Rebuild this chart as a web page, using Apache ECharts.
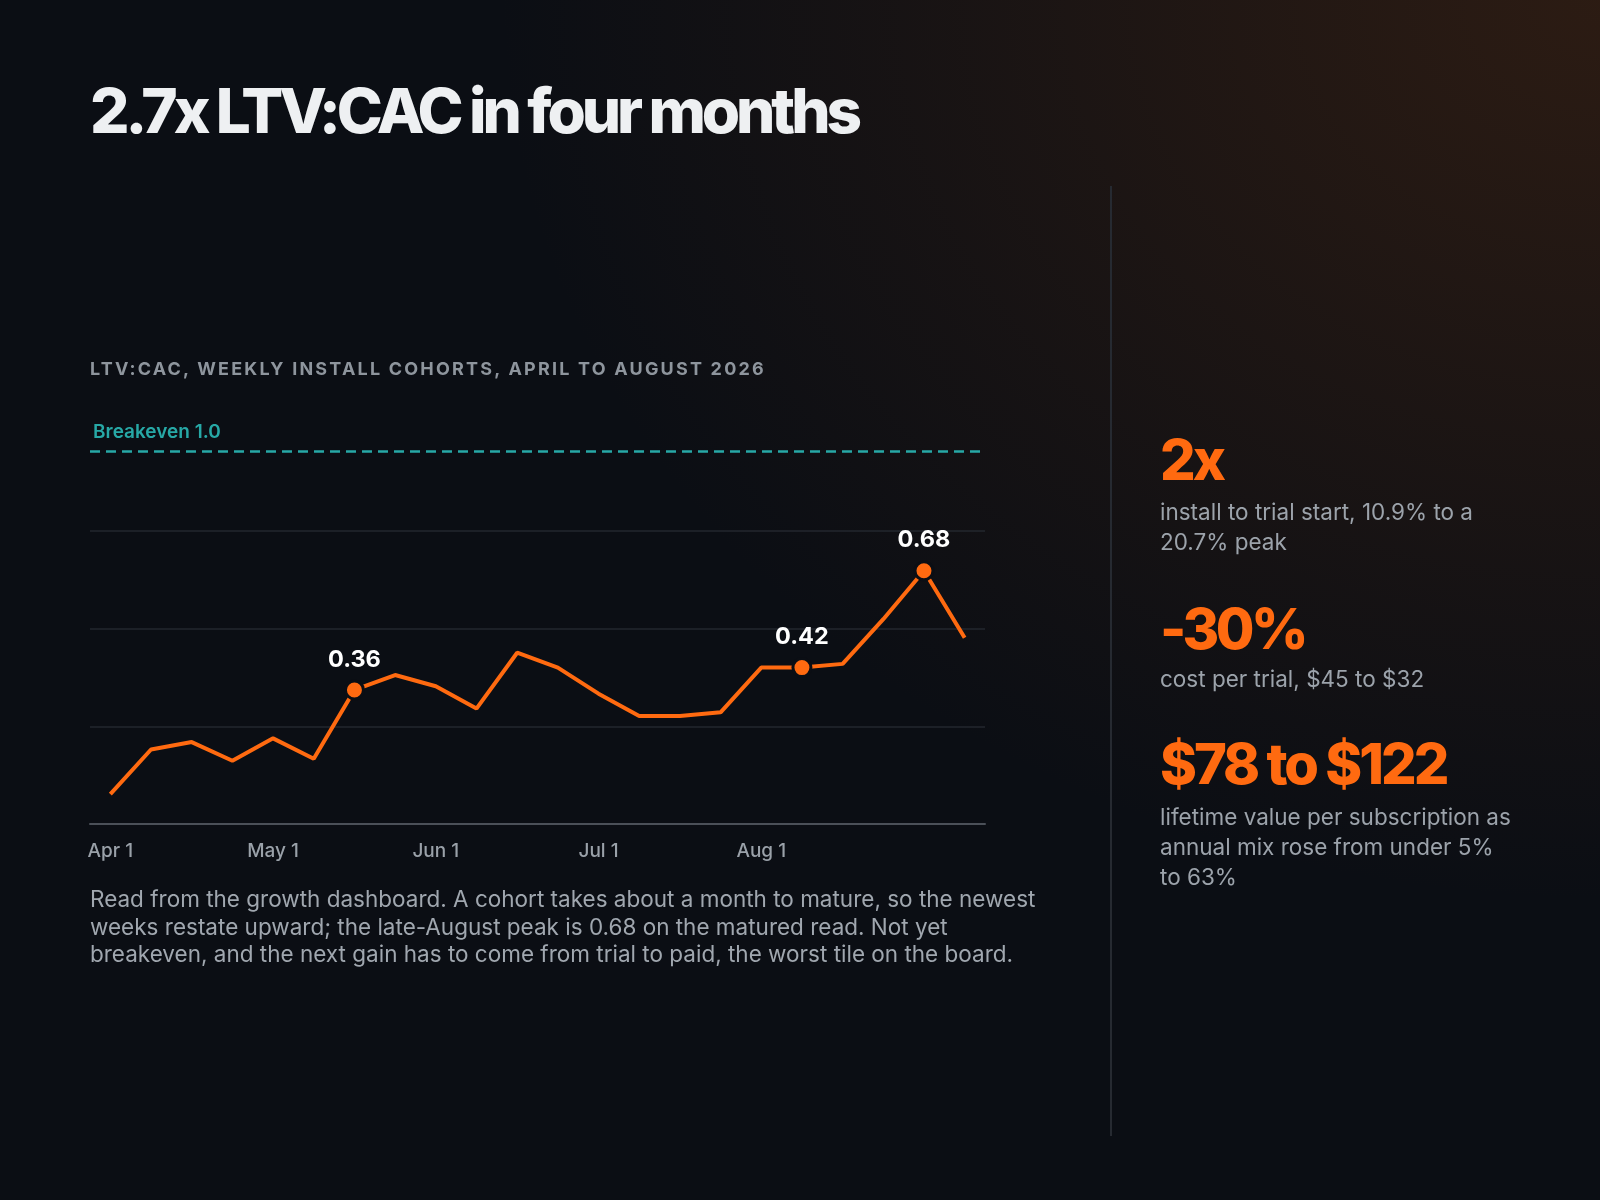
<!DOCTYPE html>
<html>
<head>
<meta charset="utf-8">
<title>LTV:CAC</title>
<script src="https://cdn.jsdelivr.net/npm/echarts@6/dist/echarts.min.js"></script>
<style>
  html, body { margin: 0; padding: 0; }
  body {
    width: 1600px; height: 1200px; position: relative; overflow: hidden;
    font-family: Inter, "Noto Sans", sans-serif;
    background:
      radial-gradient(ellipse 1100px 900px at 100% 0%, rgba(84, 44, 18, 0.45), rgba(84, 44, 18, 0) 100%),
      #0b0e14;
  }
  #chart { position: absolute; left: 0; top: 0; width: 1600px; height: 1200px; }
  .t { position: absolute; white-space: nowrap; }
  #title { left: 90px; top: 80px; font-size: 62px; line-height: 62px; font-weight: 800; letter-spacing: -4.1px; color: #eef0f2; }
  #sub { left: 90px; top: 360px; font-size: 18px; line-height: 18px; font-weight: 700; letter-spacing: 2.2px; color: #8e959d; }
  #note { left: 90px; top: 885px; font-size: 22.5px; line-height: 27.5px; color: #a0a7af; }
  #divider { position: absolute; left: 1110px; top: 186px; width: 1.5px; height: 950px; background: #262a31; }
  .big { left: 1160px; font-size: 56px; line-height: 56px; font-weight: 800; letter-spacing: -3px; color: #ff6a10; }
  .desc { left: 1160px; font-size: 22.5px; line-height: 30px; color: #9ca3ab; }
</style>
</head>
<body>
<div id="chart"></div>
<div class="t" id="title">2.7x LTV:CAC in four months</div>
<div class="t" id="sub">LTV:CAC, WEEKLY INSTALL COHORTS, APRIL TO AUGUST 2026</div>
<div class="t" id="note">Read from the growth dashboard. A cohort takes about a month to mature, so the newest<br>weeks restate upward; the late-August peak is 0.68 on the matured read. Not yet<br>breakeven, and the next gain has to come from trial to paid, the worst tile on the board.</div>
<div id="divider"></div>
<div class="t big" style="top:432px">2x</div>
<div class="t desc" style="top:497px">install to trial start, 10.9% to a<br>20.7% peak</div>
<div class="t big" style="top:601px; letter-spacing:-3.6px">-30%</div>
<div class="t desc" style="top:664px">cost per trial, $45 to $32</div>
<div class="t big" style="top:736px">$78 to $122</div>
<div class="t desc" style="top:802px">lifetime value per subscription as<br>annual mix rose from under 5%<br>to 63%</div>

<script>
// weekly install cohorts, april to august
var weeks = ['wk1', 'wk2', 'wk3', 'wk4', 'wk5', 'wk6', 'wk7', 'wk8', 'wk9', 'wk10', 'wk11',
             'wk12', 'wk13', 'wk14', 'wk15', 'wk16', 'wk17', 'wk18', 'wk19', 'wk20', 'wk21', 'wk22'];
var ltvCac = [0.08, 0.20, 0.22, 0.17, 0.23, 0.175, 0.36, 0.40, 0.37, 0.31, 0.46,
              0.42, 0.35, 0.29, 0.29, 0.30, 0.42, 0.42, 0.43, 0.55, 0.68, 0.50];
// month labels sit on every 4th week
var tickLabels = ['Apr 1', 'May 1', 'Jun 1', 'Jul 1', 'Aug 1'];
// weeks that get a dot and a value
var calloutIdx = [6, 17, 20];
var breakeven = 1.0;

var orange = '#ff6a10';
var teal = '#27a8a6';

var chart = echarts.init(document.getElementById('chart'));

var seriesData = ltvCac.map(function(v, i) {
    if (calloutIdx.indexOf(i) >= 0) {
        return { value: v, symbol: 'circle', symbolSize: 18, label: { show: true } };
    }
    return { value: v, symbol: 'none' };
});

chart.setOption({
    animation: false,
    grid: { left: 90, top: 433, width: 895, height: 391 },
    xAxis: {
        type: 'category',
        data: weeks,
        boundaryGap: true,
        axisLine: { lineStyle: { color: '#4b5058', width: 2 } },
        axisTick: { show: false },
        axisLabel: {
            interval: 0,
            margin: 18,
            color: '#9aa1a9',
            fontFamily: 'Inter',
            fontSize: 19,
            fontWeight: 500,
            formatter: function(v, i) {
                if (i % 4 === 0 && tickLabels[i / 4]) return tickLabels[i / 4];
                return '';
            }
        }
    },
    yAxis: {
        type: 'value',
        min: 0,
        max: 1.05,
        interval: 0.2625,
        axisLine: { show: false },
        axisTick: { show: false },
        axisLabel: { show: false },
        splitLine: {
            showMinLine: false,
            showMaxLine: false,
            lineStyle: { color: '#23272e', width: 1.5 }
        }
    },
    series: [{
        type: 'line',
        data: seriesData,
        lineStyle: { color: orange, width: 4 },
        itemStyle: { color: orange, borderColor: '#0b0e14', borderWidth: 3 },
        label: {
            show: false,
            position: 'top',
            distance: 8,
            color: '#ffffff',
            fontFamily: 'Inter',
            fontSize: 23.5,
            fontWeight: 700,
            formatter: function(p) { return p.value.toFixed(2); }
        },
        markLine: {
            silent: true,
            symbol: 'none',
            lineStyle: { color: teal, width: 2.5, type: [10, 6] },
            label: {
                position: 'insideStartTop',
                distance: [3, 10],
                color: teal,
                fontFamily: 'Inter',
                fontSize: 19,
                fontWeight: 600,
                formatter: 'Breakeven 1.0'
            },
            data: [{ yAxis: breakeven }]
        }
    }]
});
</script>
</body>
</html>
